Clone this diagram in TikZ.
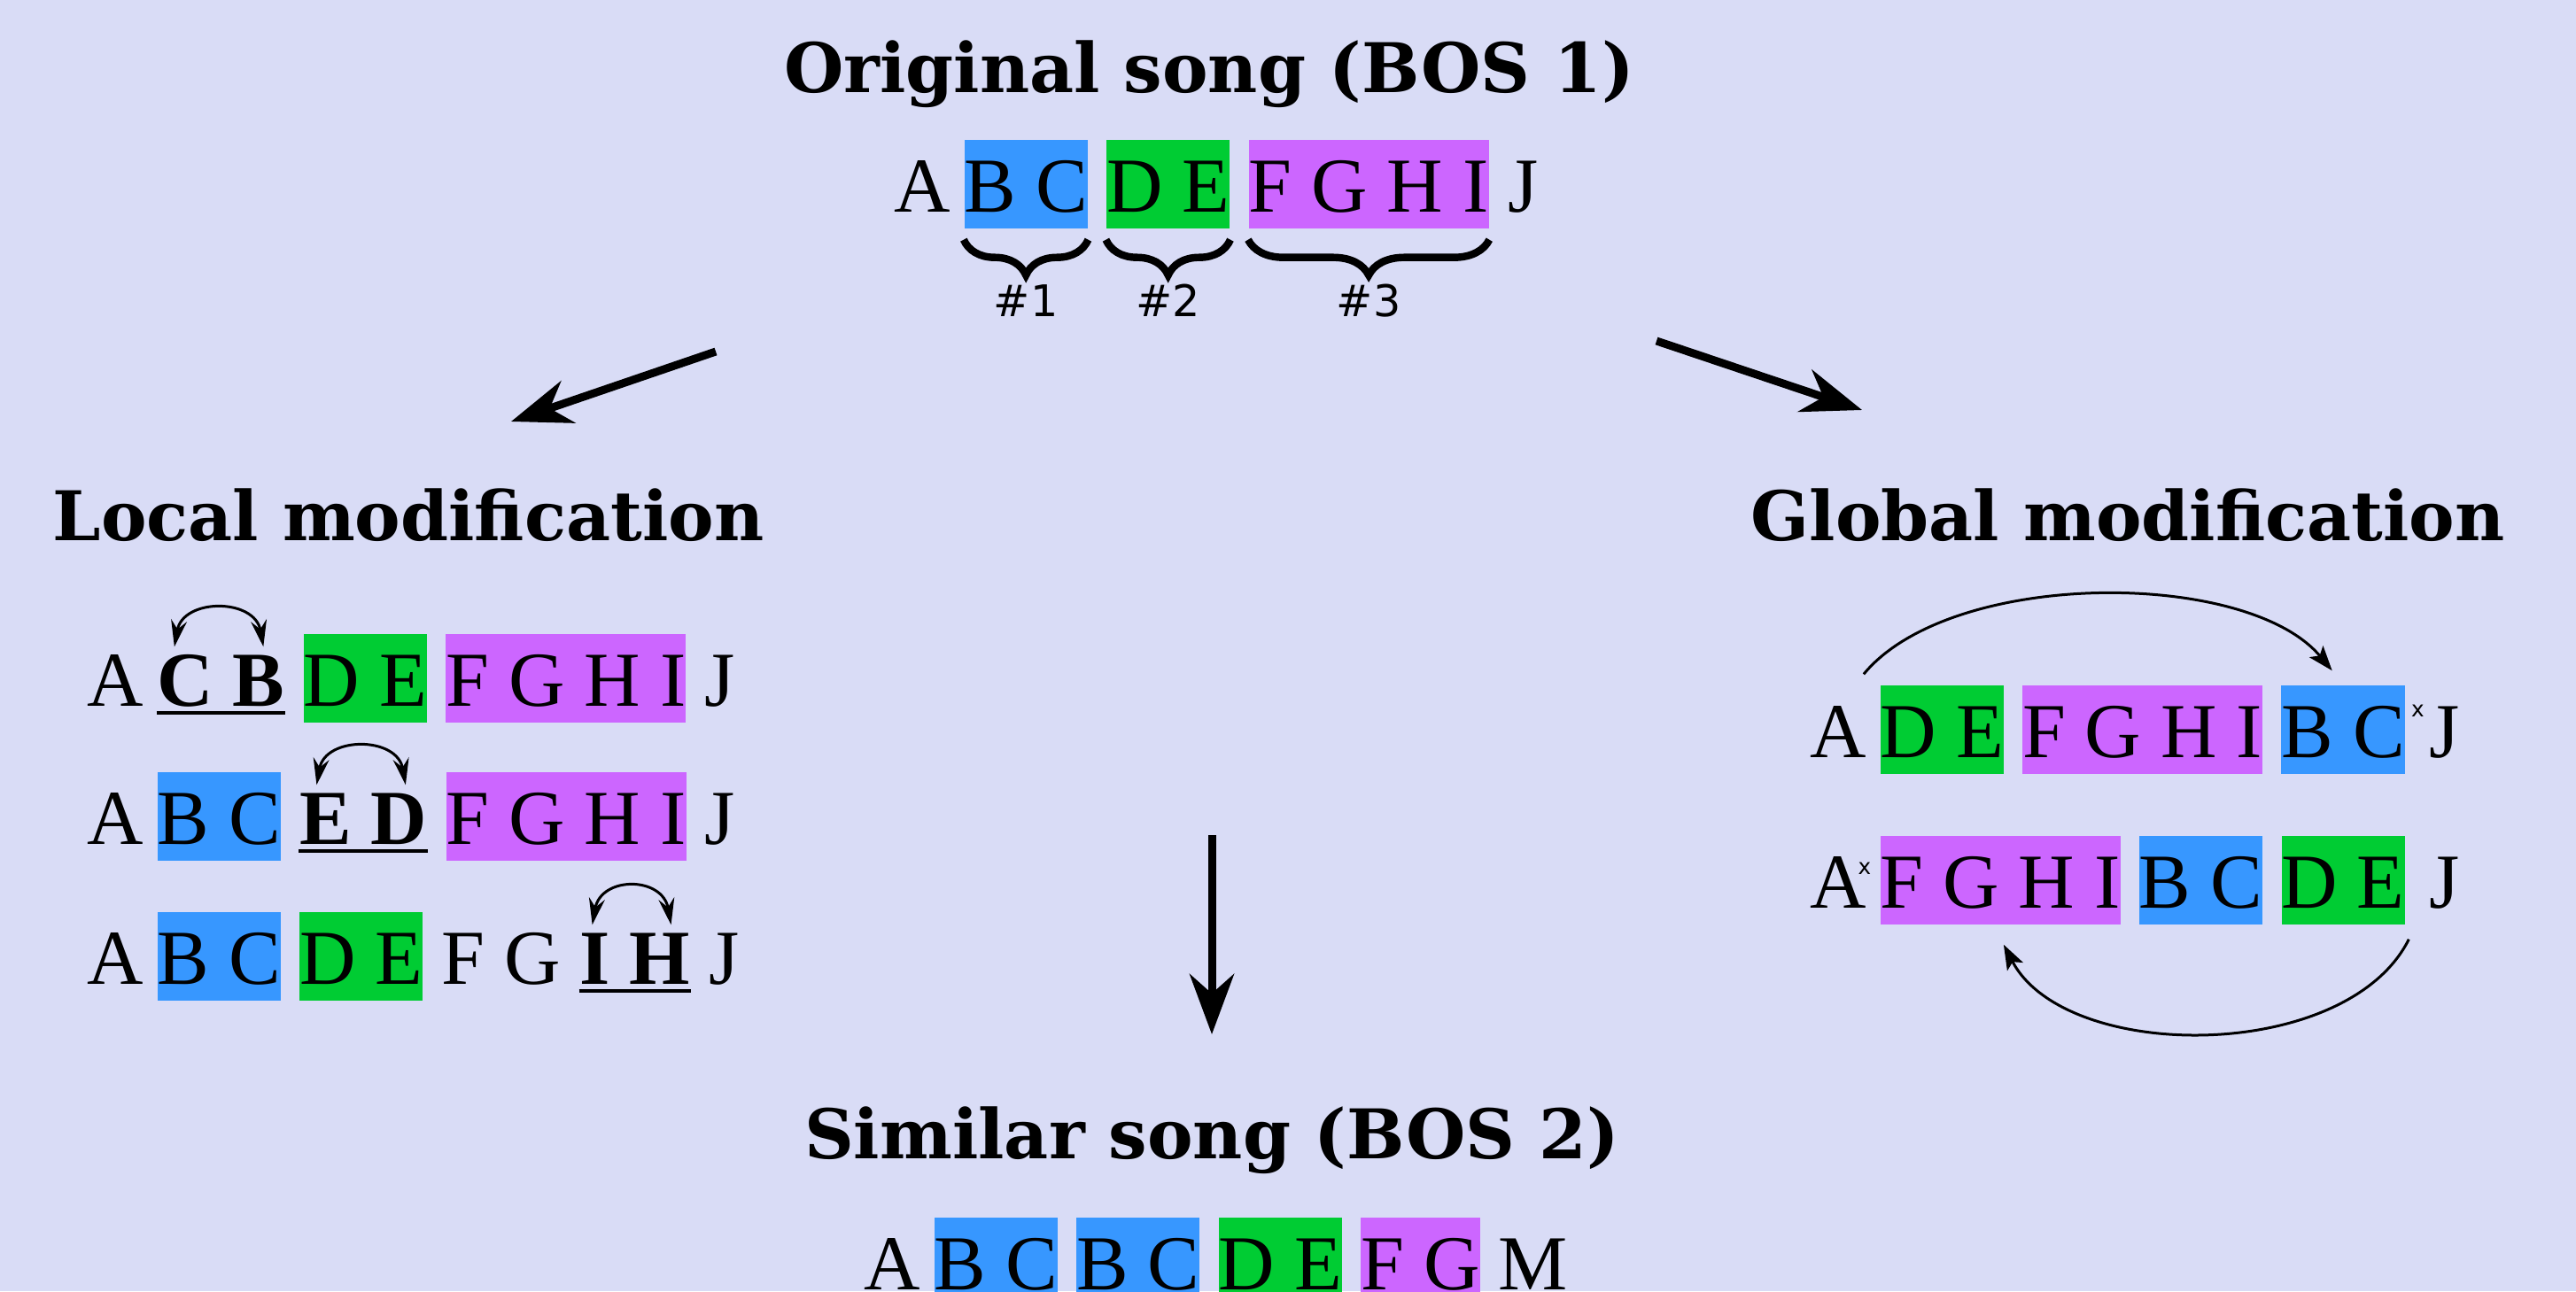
\documentclass[tikz,border=0pt]{standalone}
\usepackage{fontspec}
\setmainfont{Liberation Serif}
\newfontfamily\headfont{DejaVu Serif}
\newfontfamily\tagfont{DejaVu Sans}
\usetikzlibrary{positioning,arrows.meta,decorations.pathreplacing}
\definecolor{bgc}{RGB}{217,220,246}
\definecolor{segblue}{RGB}{55,151,255}
\definecolor{seggreen}{RGB}{0,204,51}
\definecolor{segpurple}{RGB}{204,102,255}
\tikzset{
  letters/.style={inner sep=0pt,text height=0.81cm,text depth=0.19cm,font=\fontsize{25}{30}\selectfont},
  block/.style={letters,fill=#1},
  swapped/.style={letters,font=\fontsize{25}{30}\selectfont\bfseries},
  heading/.style={anchor=base,inner sep=0pt,font=\headfont\bfseries\fontsize{22}{26}\selectfont},
  tag/.style={inner sep=0pt,font=\tagfont\fontsize{14}{16}\selectfont},
  cut/.style={inner sep=0pt,font=\tagfont\fontsize{7}{8}\selectfont},
  curly/.style={decorate,decoration={brace,mirror,amplitude=0.4cm,raise=0.12cm},line width=2.4pt},
  uline/.style={line width=0.04cm},
  hop/.style={line width=0.03cm,{Stealth[length=0.3cm,width=0.18cm,inset=0.1cm]}-{Stealth[length=0.3cm,width=0.18cm,inset=0.1cm]}},
  move/.style={line width=0.03cm,-{Stealth[length=0.28cm,width=0.2cm,inset=0.06cm]}},
  big/.style={line width=0.09cm,-{Stealth[length=0.68cm,width=0.5cm,inset=0.22cm]}}
}
\begin{document}
\begin{tikzpicture}[node distance=0.2cm]
\fill[bgc] (0,0) rectangle (29.08,-14.58);
\useasboundingbox (0,0) rectangle (29.08,-14.58);

\node[heading] (orig) at (13.65,-1.05) {Original song (BOS 1)};
\node[heading] (local) at (4.61,-6.10) {Local modification};
\node[heading] (global) at (24.02,-6.10) {Global modification};
\node[heading] (similar) at (13.68,-13.08) {Similar song (BOS 2)};

\node[letters,anchor=base west] (o0) at (10.09,-2.39) {A};
\node[block=segblue,right=0.14cm of o0] (o1) {B C};
\node[block=seggreen,right=of o1] (o2) {D E};
\node[block=segpurple,right=of o2] (o3) {F G H I};
\node[letters,right=of o3] (o4) {J};
\draw[curly] (o1.south west) -- (o1.south east);
\draw[curly] (o2.south west) -- (o2.south east);
\draw[curly] (o3.south west) -- (o3.south east);
\node[tag,below=0.62cm of o1] (t1) {\#1};
\node[tag,below=0.62cm of o2] (t2) {\#2};
\node[tag,below=0.62cm of o3] (t3) {\#3};

\coordinate (ls) at (8.08,-3.97);
\coordinate (le) at (5.77,-4.76);
\coordinate (rs) at (18.70,-3.85);
\coordinate (re) at (21.02,-4.63);
\coordinate (ds) at (13.68,-9.43);
\coordinate (de) at (13.68,-11.68);
\draw[big] (ls) -- (le);
\draw[big] (rs) -- (re);
\draw[big] (ds) -- (de);

\node[letters,anchor=base west] (l10) at (0.98,-7.97) {A};
\node[swapped,right=0.14cm of l10] (l11) {C B};
\node[block=seggreen,right=of l11] (l12) {D E};
\node[block=segpurple,right=of l12] (l13) {F G H I};
\node[letters,right=of l13] (l14) {J};
\draw[uline] ([yshift=-0.08cm]l11.base west) -- ([yshift=-0.08cm]l11.base east);
\draw[hop] ([xshift=0.2cm,yshift=-0.15cm]l11.north west) .. controls +(80:0.56) and +(100:0.56) .. ([xshift=-0.25cm,yshift=-0.15cm]l11.north east);

\node[letters,anchor=base west] (l20) at (0.98,-9.53) {A};
\node[block=segblue,right=0.14cm of l20] (l21) {B C};
\node[swapped,right=of l21] (l22) {E D};
\node[block=segpurple,right=of l22] (l23) {F G H I};
\node[letters,right=of l23] (l24) {J};
\draw[uline] ([yshift=-0.08cm]l22.base west) -- ([yshift=-0.08cm]l22.base east);
\draw[hop] ([xshift=0.2cm,yshift=-0.15cm]l22.north west) .. controls +(80:0.56) and +(100:0.56) .. ([xshift=-0.25cm,yshift=-0.15cm]l22.north east);

\node[letters,anchor=base west] (l30) at (0.98,-11.11) {A};
\node[block=segblue,right=0.14cm of l30] (l31) {B C};
\node[block=seggreen,right=of l31] (l32) {D E};
\node[letters,right=of l32] (l33) {F G};
\node[swapped,right=of l33] (l34) {I H};
\node[letters,right=of l34] (l35) {J};
\draw[uline] ([yshift=-0.08cm]l34.base west) -- ([yshift=-0.08cm]l34.base east);
\draw[hop] ([xshift=0.15cm,yshift=-0.15cm]l34.north west) .. controls +(80:0.56) and +(100:0.56) .. ([xshift=-0.22cm,yshift=-0.15cm]l34.north east);

\node[letters,anchor=base west] (g10) at (20.43,-8.55) {A};
\node[block=seggreen,right=0.14cm of g10] (g11) {D E};
\node[block=segpurple,right=of g11] (g12) {F G H I};
\node[block=segblue,right=of g12] (g13) {B C};
\node[letters,right=0.26cm of g13] (g14) {J};
\node[cut,anchor=north west] (gx1) at ([xshift=0.06cm,yshift=-0.22cm]g13.north east) {x};
\draw[move] ([xshift=-0.04cm,yshift=0.12cm]g10.north east) .. controls +(0.98,1.19) and +(-0.96,1.15) .. ([xshift=0.58cm,yshift=0.16cm]g13.north west);

\node[letters,anchor=base west] (g20) at (20.43,-10.25) {A};
\node[block=segpurple,right=0.14cm of g20] (g21) {F G H I};
\node[block=segblue,right=of g21] (g22) {B C};
\node[block=seggreen,right=of g22] (g23) {D E};
\node[letters,right=0.26cm of g23] (g24) {J};
\node[cut,anchor=north west] (gx2) at ([xshift=-0.11cm,yshift=-0.30cm]g20.north east) {x};
\draw[move] ([xshift=0.04cm,yshift=-0.16cm]g23.south east) .. controls +(-0.70,-1.40) and +(0.70,-1.34) .. ([xshift=1.4cm,yshift=-0.22cm]g21.south west);

\node[letters,anchor=base west] (s0) at (9.75,-14.56) {A};
\node[block=segblue,right=0.14cm of s0] (s1) {B C};
\node[block=segblue,right=of s1] (s2) {B C};
\node[block=seggreen,right=of s2] (s3) {D E};
\node[block=segpurple,right=of s3] (s4) {F G};
\node[letters,right=of s4] (s5) {M};
\end{tikzpicture}
\end{document}
